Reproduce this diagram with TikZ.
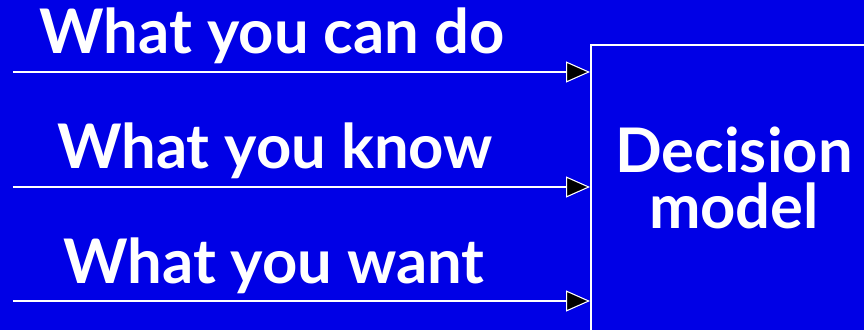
\documentclass[tikz,border=0pt]{standalone}
\usepackage{fontspec}
\setmainfont{Lato}
\usepackage{tikz}
\usetikzlibrary{arrows.meta,positioning}
\definecolor{SlideBlue}{HTML}{0000E6}

\begin{document}
\begin{tikzpicture}[
    >={Triangle[length=0.48cm, width=0.42cm, fill=black, line width=0.6pt]},
    every node/.style={font=\fontsize{35}{31.8}\selectfont\bfseries, text=white},
    inputline/.style={draw=white, line width=1.3pt},
    modelbox/.style={draw=white, line width=1.3pt, minimum width=5.9cm, minimum height=6.4cm, anchor=north west}
]
\fill[SlideBlue] (0,0) rectangle (17.28,6.6);
\useasboundingbox (0,0) rectangle (17.28,6.6);
\clip (0,0) rectangle (17.28,6.6);

\node[modelbox] (model) at (11.8,5.72) {};
\node[align=center] (modeltext) at (14.68,3.05) {Decision\\model};

\node[anchor=base] (can) at (5.44,5.54) {What you can do};
\node[anchor=base] (know) at (5.50,3.24) {What you know};
\node[anchor=base] (want) at (5.48,0.94) {What you want};

\coordinate (s1) at (0.26,5.16);
\coordinate (s2) at (0.26,2.86);
\coordinate (s3) at (0.26,0.58);
\draw[inputline, ->] (s1) -- (model.west |- s1);
\draw[inputline, ->] (s2) -- (model.west |- s2);
\draw[inputline, ->] (s3) -- (model.west |- s3);
\end{tikzpicture}
\end{document}
